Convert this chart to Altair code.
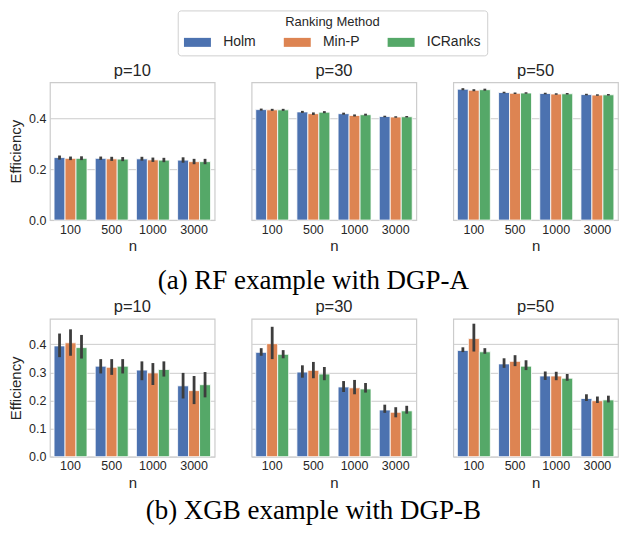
import altair as alt
import pandas as pd

methods = ["Holm", "Min-P", "ICRanks"]
colors = ["#4c72b0", "#dd8452", "#55a868"]
ns = ["100", "500", "1000", "3000"]
ps = ["p=10", "p=30", "p=50"]

# Values ordered n-major (100, 500, 1000, 3000), method-minor (Holm, Min-P, ICRanks)
# (a) RF example with DGP-A
rf_p10_mean = [0.245, 0.242, 0.242, 0.242, 0.240, 0.239, 0.240, 0.236, 0.235, 0.235, 0.229, 0.229]
rf_p10_lo = [0.237, 0.235, 0.235, 0.236, 0.232, 0.231, 0.233, 0.228, 0.227, 0.225, 0.219, 0.219]
rf_p10_hi = [0.253, 0.249, 0.250, 0.249, 0.248, 0.247, 0.248, 0.245, 0.244, 0.246, 0.240, 0.240]
rf_p30_mean = [0.433, 0.432, 0.432, 0.424, 0.417, 0.423, 0.417, 0.410, 0.413, 0.406, 0.404, 0.405]
rf_p30_lo = [0.429, 0.428, 0.428, 0.420, 0.412, 0.419, 0.413, 0.406, 0.409, 0.403, 0.401, 0.402]
rf_p30_hi = [0.437, 0.436, 0.436, 0.428, 0.422, 0.427, 0.421, 0.414, 0.417, 0.409, 0.407, 0.408]
rf_p50_mean = [0.513, 0.509, 0.511, 0.500, 0.497, 0.498, 0.496, 0.494, 0.495, 0.492, 0.490, 0.491]
rf_p50_lo = [0.509, 0.505, 0.507, 0.497, 0.494, 0.495, 0.493, 0.491, 0.492, 0.489, 0.487, 0.488]
rf_p50_hi = [0.517, 0.513, 0.515, 0.503, 0.500, 0.501, 0.499, 0.497, 0.498, 0.495, 0.493, 0.494]

# (b) XGB example with DGP-B
xgb_p10_mean = [0.394, 0.405, 0.388, 0.322, 0.318, 0.322, 0.308, 0.298, 0.310, 0.252, 0.235, 0.256]
xgb_p10_lo = [0.354, 0.359, 0.349, 0.296, 0.291, 0.296, 0.272, 0.255, 0.285, 0.207, 0.187, 0.211]
xgb_p10_hi = [0.438, 0.453, 0.433, 0.347, 0.347, 0.347, 0.339, 0.333, 0.339, 0.298, 0.287, 0.301]
xgb_p30_mean = [0.371, 0.402, 0.364, 0.301, 0.307, 0.294, 0.248, 0.245, 0.241, 0.166, 0.158, 0.163]
xgb_p30_lo = [0.359, 0.347, 0.350, 0.281, 0.279, 0.272, 0.230, 0.222, 0.228, 0.156, 0.140, 0.153]
xgb_p30_hi = [0.386, 0.462, 0.379, 0.325, 0.337, 0.319, 0.269, 0.273, 0.262, 0.185, 0.176, 0.181]
xgb_p50_mean = [0.378, 0.420, 0.373, 0.330, 0.339, 0.322, 0.287, 0.287, 0.279, 0.207, 0.199, 0.202]
xgb_p50_lo = [0.372, 0.374, 0.366, 0.316, 0.322, 0.308, 0.273, 0.272, 0.270, 0.198, 0.191, 0.193]
xgb_p50_hi = [0.389, 0.473, 0.386, 0.350, 0.361, 0.343, 0.303, 0.302, 0.294, 0.222, 0.214, 0.217]

rf_y_ticks = [0.0, 0.2, 0.4]
xgb_y_ticks = [0.0, 0.1, 0.2, 0.3, 0.4]

PANEL_W = 165
PANEL_H = 138


def make_df(mean, lo, hi):
    rows = []
    i = 0
    for n in ns:
        for m in methods:
            rows.append({"n": n, "method": m, "mean": mean[i], "lo": lo[i], "hi": hi[i]})
            i += 1
    return pd.DataFrame(rows)


legend = alt.Legend(
    title="Ranking Method",
    orient="none",
    legendX=128,
    legendY=2,
    direction="horizontal",
    titleAnchor="middle",
    titleOrient="top",
    titleFont="Liberation Sans",
    titleFontSize=13,
    titleFontWeight="normal",
    titleColor="#262626",
    titlePadding=6,
    labelFont="Liberation Sans",
    labelFontSize=14,
    labelColor="#262626",
    labelOffset=18.75,
    columnPadding=27,
    symbolType="M-2,-0.667H2V0.667H-2Z",
    symbolSize=182.25,
    symbolOffset=6.75,
    symbolStrokeWidth=0,
    strokeColor="#d0d0d0",
    padding=6,
    cornerRadius=3,
    fillColor="white",
)


def panel(df, title, domain, ticks, first):
    base = alt.Chart(df)
    x = alt.X(
        "n:N",
        sort=ns,
        title="n",
        scale=alt.Scale(paddingInner=0.2, paddingOuter=0.1),
        axis=alt.Axis(labelAngle=0, grid=False, labelPadding=3, titlePadding=3),
    )
    xo = alt.XOffset("method:N", sort=methods, scale=alt.Scale(domain=methods, paddingInner=0, paddingOuter=0))
    if first:
        yaxis = alt.Axis(values=ticks, format=".1f", title="Efficiency", labelPadding=4, titlePadding=5,
                         labelOverlap=False)
    else:
        yaxis = alt.Axis(values=ticks, labels=False, title=None)
    yscale = alt.Scale(domain=domain, nice=False, zero=True)
    bars = base.mark_bar(stroke="white", strokeWidth=0.8).encode(
        x=x,
        xOffset=xo,
        y=alt.Y("mean:Q", scale=yscale, axis=yaxis),
        color=alt.Color("method:N", sort=methods, scale=alt.Scale(domain=methods, range=colors), legend=legend),
    )
    err = base.mark_rule(color="#3d3d3d", strokeWidth=2.8).encode(
        x=x, xOffset=xo, y=alt.Y("lo:Q", scale=yscale, axis=yaxis), y2="hi:Q"
    )
    return alt.layer(bars, err).properties(
        width=PANEL_W,
        height=PANEL_H,
        title=alt.TitleParams(title, offset=3),
    )


rf_data = [(rf_p10_mean, rf_p10_lo, rf_p10_hi), (rf_p30_mean, rf_p30_lo, rf_p30_hi), (rf_p50_mean, rf_p50_lo, rf_p50_hi)]
xgb_data = [(xgb_p10_mean, xgb_p10_lo, xgb_p10_hi), (xgb_p30_mean, xgb_p30_lo, xgb_p30_hi), (xgb_p50_mean, xgb_p50_lo, xgb_p50_hi)]

rf_panels = [panel(make_df(*d), ps[i], [0, 0.54], rf_y_ticks, i == 0) for i, d in enumerate(rf_data)]
xgb_panels = [panel(make_df(*d), ps[i], [0, 0.49], xgb_y_ticks, i == 0) for i, d in enumerate(xgb_data)]

caption_style = dict(orient="bottom", anchor="middle", font="Liberation Serif", fontSize=27,
                     fontWeight="normal", color="#000000")

row1 = alt.hconcat(*rf_panels, spacing=35,
                   title=alt.TitleParams("(a) RF example with DGP-A", offset=14, **caption_style))
row2 = alt.hconcat(*xgb_panels, spacing=35,
                   title=alt.TitleParams("(b) XGB example with DGP-B", offset=7, **caption_style))

spacer = alt.Chart(pd.DataFrame({"a": [0]})).mark_point(opacity=0).encode(
    x=alt.value(20), y=alt.value(20)
).properties(width=560, height=50, view=alt.ViewBackground(strokeOpacity=0))

chart = alt.vconcat(spacer, row1, row2, spacing=3).properties(padding=0).configure_view(
    stroke="#cccccc", strokeWidth=1.2
).configure_axis(
    labelFont="Liberation Sans",
    labelFontSize=12.5,
    labelColor="#262626",
    titleFont="Liberation Sans",
    titleFontSize=15,
    titleFontWeight="normal",
    titleColor="#262626",
    gridColor="#cccccc",
    gridWidth=1,
    domain=False,
    ticks=False,
).configure_title(
    font="Liberation Sans", fontSize=16.5, fontWeight="normal", color="#262626"
)

chart.save("out.html", embed_options={"renderer": "svg", "actions": False})
